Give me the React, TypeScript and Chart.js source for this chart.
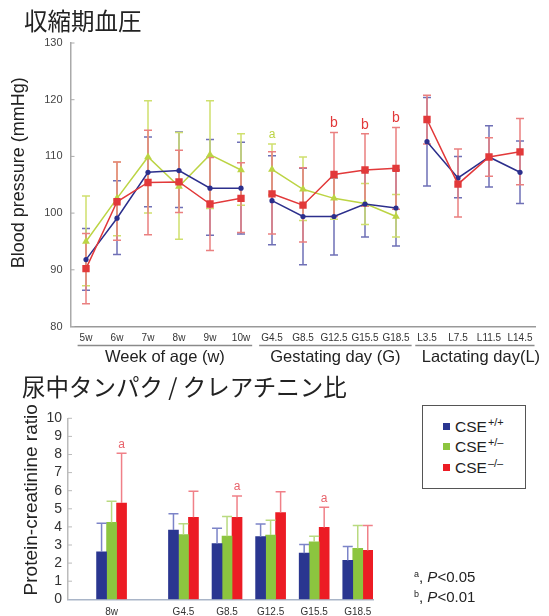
import React, { useEffect, useRef } from 'react';
import { Chart, registerables } from 'chart.js';
Chart.register(...registerables);

const FONT = '"Liberation Sans", Arial, Helvetica, sans-serif';
const JP = '"Noto Sans CJK JP", "Noto Sans CJK SC", sans-serif';

// ---------- Systolic blood pressure (top) ----------
const bpLabels = ['5w', '6w', '7w', '8w', '9w', '10w', 'G4.5', 'G8.5', 'G12.5', 'G15.5', 'G18.5', 'L3.5', 'L7.5', 'L11.5', 'L14.5'];
const bpGroupTitles = ['Week of age (w)', 'Gestating day (G)', 'Lactating day(L)'];
const bpGroupEnds = [5, 10, 14];

const bpWildMean = [91.8, 99.1, 107.2, 107.5, 104.4, 104.4, 102.2, 99.4, 99.4, 101.6, 100.9, 112.6, 106.2, 109.9, 107.2];
const bpWildHi = [97.3, 105.7, 113.4, 114.3, 113.0, 112.5, 110.1, 107.9, 106.2, 107.4, 107.6, 120.4, 110.0, 115.4, 112.7];
const bpWildLo = [86.4, 92.7, 101.1, 101.0, 96.1, 96.3, 94.4, 90.9, 92.6, 95.8, 94.2, 104.8, 102.7, 104.6, 101.7];

const bpHetMean = [95.0, 102.6, 109.9, 104.7, 110.3, 107.6, 107.7, 104.2, 102.6, 101.7, 99.4, null, null, null, null];
const bpHetHi = [103.0, 109.0, 119.8, 114.2, 119.8, 114.0, 112.2, 109.9, 106.3, 105.2, 103.3, null, null, null, null];
const bpHetLo = [87.2, 96.0, 100.0, 95.4, 100.8, 101.4, 103.2, 98.7, 98.9, 98.0, 95.8, null, null, null, null];

const bpKoMean = [90.2, 102.0, 105.4, 105.5, 101.6, 102.6, 103.4, 101.4, 106.8, 107.6, 107.9, 116.5, 105.1, 109.9, 110.8];
const bpKoHi = [96.4, 109.0, 114.6, 111.1, 109.8, 108.9, 110.8, 108.0, 114.2, 114.0, 115.1, 120.8, 111.3, 113.3, 116.7];
const bpKoLo = [84.0, 95.2, 96.2, 100.1, 93.4, 96.6, 96.3, 94.9, 99.4, 101.2, 100.7, 112.2, 99.3, 106.5, 105.0];

const bpTicks = [80, 90, 100, 110, 120, 130];
// significance letters: dataset index (0 wild, 1 het, 2 ko), category index, letter
const bpMarks = [
  { ds: 1, idx: 6, text: 'a' },
  { ds: 2, idx: 8, text: 'b' },
  { ds: 2, idx: 9, text: 'b' },
  { ds: 2, idx: 10, text: 'b' },
];

// ---------- Urinary protein / creatinine (bottom) ----------
const urLabels = ['8w', 'G4.5', 'G8.5', 'G12.5', 'G15.5', 'G18.5'];
const urSlots = [0, 1.65, 2.65, 3.65, 4.65, 5.65];
const urWild = [2.62, 3.83, 3.08, 3.46, 2.55, 2.15];
const urWildHi = [4.2, 4.72, 3.92, 4.16, 3.03, 2.92];
const urHet = [4.25, 3.57, 3.49, 3.55, 3.18, 2.81];
const urHetHi = [5.42, 4.17, 4.58, 4.37, 3.48, 4.08];
const urKo = [5.32, 4.53, 4.53, 4.79, 3.97, 2.7];
const urKoHi = [8.07, 5.97, 5.71, 5.94, 5.08, 4.08];
const urMarks = [
  { ds: 2, idx: 0, text: 'a' },
  { ds: 2, idx: 2, text: 'a' },
  { ds: 2, idx: 4, text: 'a' },
];

const C = {
  lineBlue: '#2c2f8c', lineGreen: '#bcd444', lineRed: '#e2393a',
  errBlue: '#6f70b6', errGreen: '#cfe06e', errRed: '#ea8080',
  barBlue: '#2a3690', barGreen: '#8cc53f', barRed: '#ec1c24',
  barErrBlue: '#7c84c8', barErrGreen: '#b9da80', barErrRed: '#f08088',
};

function drawRotated(ctx: any, text: string, x: number, y: number, font: string) {
  ctx.save();
  ctx.translate(x, y);
  ctx.rotate(-Math.PI / 2);
  ctx.font = font;
  ctx.fillStyle = '#222';
  ctx.textAlign = 'center';
  ctx.textBaseline = 'middle';
  ctx.fillText(text, 0, 0);
  ctx.restore();
}

const topPlugin = {
  id: 'topDecor',
  beforeDatasetsDraw(chart: any) {
    const ctx = chart.ctx;
    const ys = chart.scales.y;
    chart.data.datasets.forEach((ds: any, di: number) => {
      const meta = chart.getDatasetMeta(di);
      ctx.save();
      ctx.strokeStyle = ds.errColor;
      ctx.lineWidth = 1.5;
      meta.data.forEach((el: any, i: number) => {
        if (ds.data[i] == null || ds.errHi[i] == null) return;
        const x = el.x;
        const yh = ys.getPixelForValue(ds.errHi[i]);
        const yl = ys.getPixelForValue(ds.errLo[i]);
        ctx.beginPath();
        ctx.moveTo(x, yh); ctx.lineTo(x, yl);
        ctx.moveTo(x - 4, yh); ctx.lineTo(x + 4, yh);
        ctx.moveTo(x - 4, yl); ctx.lineTo(x + 4, yl);
        ctx.stroke();
      });
      ctx.restore();
    });
  },
  afterDraw(chart: any) {
    const ctx = chart.ctx;
    const xs = chart.scales.x;
    const ys = chart.scales.y;
    const area = chart.chartArea;
    ctx.save();
    ctx.strokeStyle = '#aaa';
    ctx.lineWidth = 1;
    bpTicks.forEach((v) => {
      const y = ys.getPixelForValue(v);
      ctx.beginPath(); ctx.moveTo(area.left, y); ctx.lineTo(area.left + 4, y); ctx.stroke();
    });
    ctx.restore();
    bpMarks.forEach((m) => {
      const ds = chart.data.datasets[m.ds];
      const el = chart.getDatasetMeta(m.ds).data[m.idx];
      const y = ys.getPixelForValue(ds.errHi[m.idx]) - 9;
      ctx.save();
      ctx.font = `${m.text === 'b' ? 14 : 12}px ${FONT}`;
      ctx.fillStyle = ds.borderColor;
      ctx.textAlign = 'center';
      ctx.textBaseline = 'middle';
      ctx.fillText(m.text, el.x, y);
      ctx.restore();
    });
    ctx.save();
    let start = 0;
    bpGroupEnds.forEach((end, g) => {
      ctx.font = `10px ${FONT}`;
      const l = xs.getPixelForTick(start) - ctx.measureText(bpLabels[start]).width / 2 - 2;
      const r = xs.getPixelForTick(end) + ctx.measureText(bpLabels[end]).width / 2 + 2;
      const ly = area.bottom + 19;
      ctx.strokeStyle = '#8a8a8a';
      ctx.lineWidth = 1.5;
      ctx.beginPath(); ctx.moveTo(l, ly); ctx.lineTo(r, ly); ctx.stroke();
      ctx.font = `16.5px ${FONT}`;
      ctx.fillStyle = '#222';
      ctx.textAlign = 'center';
      ctx.textBaseline = 'alphabetic';
      ctx.fillText(bpGroupTitles[g], (l + r) / 2 + (g === 2 ? 6 : 0), area.bottom + 35);
      start = end + 1;
    });
    ctx.restore();
    drawRotated(ctx, 'Blood pressure (mmHg)', 19, (area.top + area.bottom) / 2 - 12, `18px ${FONT}`);
  },
};

const botPlugin = {
  id: 'botDecor',
  afterDatasetsDraw(chart: any) {
    const ctx = chart.ctx;
    const ys = chart.scales.y;
    chart.data.datasets.forEach((ds: any, di: number) => {
      const meta = chart.getDatasetMeta(di);
      ctx.save();
      ctx.strokeStyle = ds.errColor;
      ctx.lineWidth = 1.5;
      meta.data.forEach((el: any, i: number) => {
        const yh = ys.getPixelForValue(ds.errHi[i]);
        ctx.beginPath();
        ctx.moveTo(el.x, el.y); ctx.lineTo(el.x, yh);
        ctx.moveTo(el.x - 5, yh); ctx.lineTo(el.x + 5, yh);
        ctx.stroke();
      });
      ctx.restore();
    });
  },
  afterDraw(chart: any) {
    const ctx = chart.ctx;
    const ys = chart.scales.y;
    const area = chart.chartArea;
    ctx.save();
    ctx.strokeStyle = '#bbb';
    ctx.lineWidth = 1;
    for (let v = 1; v <= 10; v++) {
      const y = ys.getPixelForValue(v);
      ctx.beginPath(); ctx.moveTo(area.left, y); ctx.lineTo(area.left + 4, y); ctx.stroke();
    }
    ctx.restore();
    urMarks.forEach((m) => {
      const ds = chart.data.datasets[m.ds];
      const el = chart.getDatasetMeta(m.ds).data[m.idx];
      const y = ys.getPixelForValue(ds.errHi[m.idx]) - 9;
      ctx.save();
      ctx.font = `12px ${FONT}`;
      ctx.fillStyle = '#e8646c';
      ctx.textAlign = 'center';
      ctx.textBaseline = 'middle';
      ctx.fillText(m.text, el.x, y);
      ctx.restore();
    });
    drawRotated(ctx, 'Protein-creatinine ratio', 32, (area.top + area.bottom) / 2 - 9, `19px ${FONT}`);
  },
};

const isBreak = (c: any) => bpGroupEnds.includes(c.p0DataIndex);

export default function App() {
  const topRef = useRef<HTMLCanvasElement>(null);
  const botRef = useRef<HTMLCanvasElement>(null);

  useEffect(() => {
    const lineDs = (label: string, data: any[], hi: any[], lo: any[], color: string, err: string, style: string, radius: number, order: number) => ({
      label, data, errHi: hi, errLo: lo, errColor: err,
      borderColor: color, backgroundColor: color, borderWidth: 1.5,
      pointStyle: style, pointRadius: radius, pointBorderWidth: 0,
      pointBackgroundColor: color, spanGaps: false, order,
      segment: { borderColor: (c: any) => (isBreak(c) ? 'rgba(0,0,0,0)' : undefined) },
    });

    const top = new Chart(topRef.current as HTMLCanvasElement, {
      type: 'line',
      data: {
        labels: bpLabels,
        datasets: [
          lineDs('CSE+/+', bpWildMean, bpWildHi, bpWildLo, C.lineBlue, C.errBlue, 'circle', 2.6, 1),
          lineDs('CSE+/-', bpHetMean, bpHetHi, bpHetLo, C.lineGreen, C.errGreen, 'triangle', 4.5, 2),
          lineDs('CSE-/-', bpKoMean, bpKoHi, bpKoLo, C.lineRed, C.errRed, 'rect', 5.2, 0),
        ] as any,
      },
      options: {
        animation: false,
        responsive: false,
        events: [],
        layout: { padding: { top: 43, right: 13.5, left: 0, bottom: 0 } },
        plugins: { legend: { display: false }, tooltip: { enabled: false } },
        scales: {
          x: {
            type: 'category',
            offset: true,
            grid: { display: false, drawTicks: false },
            border: { color: '#999', width: 1.5 },
            ticks: { autoSkip: false, maxRotation: 0, padding: 6, color: '#333', font: { family: FONT, size: 10 } },
            afterFit: (s: any) => { s.height = 48.5; s.paddingLeft = 0; s.paddingRight = 0; },
          },
          y: {
            min: 80, max: 130,
            grid: { display: false, drawTicks: false },
            border: { color: '#aaa', width: 1.5 },
            ticks: { stepSize: 10, padding: 8, color: '#444', font: { family: FONT, size: 11 } },
            afterFit: (s: any) => { s.width = 70.5; },
          },
        },
      } as any,
      plugins: [topPlugin],
    });

    const barDs = (label: string, vals: number[], hi: number[], color: string, err: string) => ({
      label,
      data: urSlots.map((x, i) => ({ x, y: vals[i] })),
      errHi: hi, errColor: err,
      backgroundColor: color, borderWidth: 0, barThickness: 10,
    });

    const bot = new Chart(botRef.current as HTMLCanvasElement, {
      type: 'bar',
      data: {
        datasets: [
          barDs('CSE+/+', urWild, urWildHi, C.barBlue, C.barErrBlue),
          barDs('CSE+/-', urHet, urHetHi, C.barGreen, C.barErrGreen),
          barDs('CSE-/-', urKo, urKoHi, C.barRed, C.barErrRed),
        ] as any,
      },
      options: {
        animation: false,
        responsive: false,
        events: [],
        layout: { padding: { top: 23.3, right: 176, left: 0, bottom: 0 } },
        plugins: { legend: { display: false }, tooltip: { enabled: false } },
        scales: {
          x: {
            type: 'linear', min: -1, max: 6, offset: false,
            grid: { display: false, drawTicks: false },
            border: { color: '#a9b5c8', width: 1.5 },
            afterBuildTicks: (s: any) => { s.ticks = urSlots.map((v) => ({ value: v })); },
            ticks: {
              autoSkip: false, maxRotation: 0, padding: 7, color: '#333',
              font: { family: FONT, size: 10 },
              callback: (_v: any, i: number) => urLabels[i],
            },
            afterFit: (s: any) => { s.height = 16.7; s.paddingLeft = 0; s.paddingRight = 0; },
          },
          y: {
            min: 0, max: 10,
            grid: { display: false, drawTicks: false },
            border: { color: '#bbb', width: 1.5 },
            ticks: { stepSize: 1, autoSkip: false, padding: 6, color: '#333', font: { family: FONT, size: 14 } },
            afterFit: (s: any) => { s.width = 68; },
          },
        },
      } as any,
      plugins: [botPlugin],
    });

    return () => { top.destroy(); bot.destroy(); };
  }, []);

  const sup = (t: string, size = 11, lift = -6) => (
    <span style={{ fontSize: size, position: 'relative', top: lift, marginLeft: 1 }}>{t}</span>
  );
  const legendRow = (top: number, color: string, s: string) => (
    <div style={{ position: 'absolute', left: 20, top, height: 18, lineHeight: '18px', whiteSpace: 'nowrap', font: `15.5px ${FONT}`, color: '#222' }}>
      <span style={{ display: 'inline-block', width: 7, height: 7, background: color, marginRight: 5, verticalAlign: 'middle', position: 'relative', top: -1 }} />
      CSE{sup(s)}
    </div>
  );

  return (
    <div style={{ position: 'absolute', left: 0, top: 0, width: 549, height: 616, background: '#fff', overflow: 'hidden' }}>
      <canvas ref={topRef} width={549} height={375} style={{ position: 'absolute', left: 0, top: 0, width: 549, height: 375 }} />
      <canvas ref={botRef} width={549} height={221} style={{ position: 'absolute', left: 0, top: 395, width: 549, height: 221 }} />
      <div style={{ position: 'absolute', left: 24, top: 9, font: `23.5px ${JP}`, lineHeight: '23.5px', color: '#222', whiteSpace: 'nowrap' }}>収縮期血圧</div>
      <div style={{ position: 'absolute', left: 22, top: 375, font: `23.5px ${JP}`, lineHeight: '23.5px', color: '#222', whiteSpace: 'nowrap' }}>尿中タンパク / クレアチニン比</div>
      <div style={{ position: 'absolute', left: 422, top: 405, width: 102, height: 82, border: '1px solid #555', background: '#fff' }}>
        {legendRow(12, C.barBlue, '+/+')}
        {legendRow(32, C.barGreen, '+/–')}
        {legendRow(53, C.barRed, '–/–')}
      </div>
      <div style={{ position: 'absolute', left: 413, top: 568, font: `15px ${FONT}`, lineHeight: '17px', color: '#222', whiteSpace: 'nowrap' }}>
        <div>{sup('a', 9, -5)}, <i>P</i>&lt;0.05</div>
        <div>{sup('b', 9, -5)}, <i>P</i>&lt;0.01</div>
      </div>
    </div>
  );
}
